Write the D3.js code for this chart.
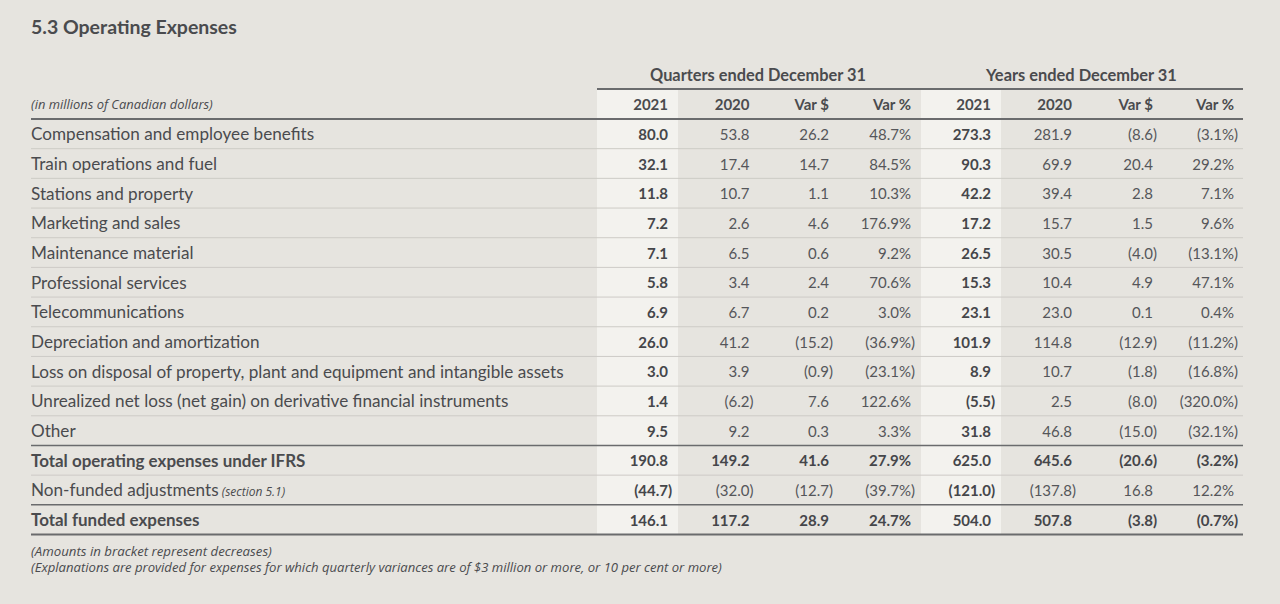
<!DOCTYPE html>
<html><head><meta charset="utf-8">
<script src="https://cdn.jsdelivr.net/npm/d3@7"></script>
<style>
html,body{margin:0;padding:0;background:#e6e4df;}
svg{display:block;font-family:Lato,"Open Sans",sans-serif;}
</style></head><body>
<svg id="chart" width="1280" height="604"></svg>
<script>
const categories = [
  "Compensation and employee benefits",
  "Train operations and fuel",
  "Stations and property",
  "Marketing and sales",
  "Maintenance material",
  "Professional services",
  "Telecommunications",
  "Depreciation and amortization",
  "Loss on disposal of property, plant and equipment and intangible assets",
  "Unrealized net loss (net gain) on derivative financial instruments",
  "Other",
  "Total operating expenses under IFRS",
  "Non-funded adjustments",
  "Total funded expenses"
];
const totalRows = [11, 13];
const q2021 = [80.0, 32.1, 11.8, 7.2, 7.1, 5.8, 6.9, 26.0, 3.0, 1.4, 9.5, 190.8, -44.7, 146.1];
const q2020 = [53.8, 17.4, 10.7, 2.6, 6.5, 3.4, 6.7, 41.2, 3.9, -6.2, 9.2, 149.2, -32.0, 117.2];
const qVarD = [26.2, 14.7, 1.1, 4.6, 0.6, 2.4, 0.2, -15.2, -0.9, 7.6, 0.3, 41.6, -12.7, 28.9];
const qVarP = [48.7, 84.5, 10.3, 176.9, 9.2, 70.6, 3.0, -36.9, -23.1, 122.6, 3.3, 27.9, -39.7, 24.7];
const y2021 = [273.3, 90.3, 42.2, 17.2, 26.5, 15.3, 23.1, 101.9, 8.9, -5.5, 31.8, 625.0, -121.0, 504.0];
const y2020 = [281.9, 69.9, 39.4, 15.7, 30.5, 10.4, 23.0, 114.8, 10.7, 2.5, 46.8, 645.6, -137.8, 507.8];
const yVarD = [-8.6, 20.4, 2.8, 1.5, -4.0, 4.9, 0.1, -12.9, -1.8, -8.0, -15.0, -20.6, 16.8, -3.8];
const yVarP = [-3.1, 29.2, 7.1, 9.6, -13.1, 47.1, 0.4, -11.2, -16.8, -320.0, -32.1, -3.2, 12.2, -0.7];
const colHeaders = ["2021", "2020", "Var $", "Var %", "2021", "2020", "Var $", "Var %"];
const groupHeaders = ["Quarters ended December 31", "Years ended December 31"];
const footnotes = [
  "(Amounts in bracket represent decreases)",
  "(Explanations are provided for expenses for which quarterly variances are of $3 million or more, or 10 per cent or more)"
];

const columns = [q2021, q2020, qVarD, qVarP, y2021, y2020, yVarD, yVarP];
const isPct = [false, false, false, true, false, false, false, true];

const svg = d3.select("#chart");
const TXT = "#4a4b4e";
const left = 31, right = 1243;
const ITAL = "'Open Sans',Lato,sans-serif";

function fit(sel, target) {
  const w = sel.node().getComputedTextLength();
  const fs = parseFloat(sel.attr("font-size"));
  sel.attr("font-size", fs * target / w);
  return fs * target / w;
}

const colX = d3.scaleOrdinal().domain(d3.range(8))
  .range([668, 749.5, 829, 911, 991, 1072, 1153, 1234]);
const shadeX = [[597, 678], [921, 1001]];

const y = d3.scaleBand().domain(d3.range(categories.length)).range([119, 534.5]);
const headTop = 89;

shadeX.forEach(([a, b]) => {
  svg.append("rect").attr("x", a).attr("y", headTop).attr("width", b - a)
    .attr("height", y.range()[1] - headTop).attr("fill", "#f3f2ee");
});

// title
fit(svg.append("text").attr("x", left).attr("y", 33.5).attr("fill", TXT)
  .attr("font-size", 18).attr("font-weight", 700).text("5.3 Operating Expenses"), 206);

// group headers
groupHeaders.forEach((g, i) => {
  fit(svg.append("text").attr("x", [758, 1081.5][i]).attr("y", 81).attr("text-anchor", "middle")
    .attr("fill", TXT).attr("font-size", 16).attr("font-weight", 700).text(g), [216, 191][i]);
});
svg.append("line").attr("x1", 597).attr("x2", right).attr("y1", headTop).attr("y2", headTop)
  .attr("stroke", "#6a6b6d").attr("stroke-width", 2);

// header row
fit(svg.append("text").attr("x", left).attr("y", 108.5).attr("fill", TXT).style("font-family", ITAL)
  .attr("font-size", 11.5).attr("font-style", "italic").text("(in millions of Canadian dollars)"), 182);
colHeaders.forEach((h, i) => {
  svg.append("text").attr("x", colX(i)).attr("y", 109.5).attr("text-anchor", "end")
    .attr("fill", TXT).attr("font-size", 15).attr("font-weight", 700).text(h);
});

// row separators
const darkAfter = [10, 12, 13];
categories.forEach((c, i) => {
  const yy = y(i) + y.bandwidth();
  const dark = darkAfter.includes(i);
  svg.append("line").attr("x1", left).attr("x2", right).attr("y1", yy).attr("y2", yy)
    .attr("stroke", dark ? "#6a6b6d" : "#cdcbc6").attr("stroke-width", dark ? (i === 13 ? 2 : 1.5) : 1);
});
svg.append("line").attr("x1", left).attr("x2", right).attr("y1", 119).attr("y2", 119)
  .attr("stroke", "#6a6b6d").attr("stroke-width", 2);

// row labels: scale size so the longest label matches the reference width
const probe = svg.append("text").attr("font-size", 16).text(categories[8]);
const labelSize = 16 * 533 / probe.node().getComputedTextLength();
probe.remove();
const fmt = d3.format(".1f");
categories.forEach((c, i) => {
  const bold = totalRows.includes(i);
  const t = svg.append("text").attr("x", left).attr("y", y(i) + y.bandwidth() / 2 + 6.5)
    .attr("fill", TXT).attr("font-size", bold ? labelSize * 0.99 : labelSize)
    .attr("font-weight", bold ? 700 : 400).text(c);
  if (i === 12) {
    t.append("tspan").attr("font-size", 12).attr("font-style", "italic")
      .style("font-family", ITAL).text(" (section 5.1)");
  }
});

// cells
columns.forEach((col, ci) => {
  col.forEach((v, ri) => {
    const bold = ci === 0 || ci === 4 || totalRows.includes(ri);
    const s = fmt(Math.abs(v)) + (isPct[ci] ? "%" : "");
    const yy = y(ri) + y.bandwidth() / 2 + 6;
    const g = svg.append("g").attr("fill", bold ? "#45464a" : "#55565a")
      .attr("font-size", 15).attr("font-weight", bold ? 700 : 400);
    g.append("text").attr("x", colX(ci)).attr("y", yy).attr("text-anchor", "end")
      .text((v < 0 ? "(" : "") + s);
    if (v < 0) g.append("text").attr("x", colX(ci)).attr("y", yy).text(")");
  });
});

// footnotes
footnotes.forEach((f, i) => {
  fit(svg.append("text").attr("x", left).attr("y", 556 + i * 16).attr("fill", TXT)
    .style("font-family", ITAL).attr("font-size", 11.5).attr("font-style", "italic").text(f),
    [241, 691][i]);
});
</script>
</body></html>
